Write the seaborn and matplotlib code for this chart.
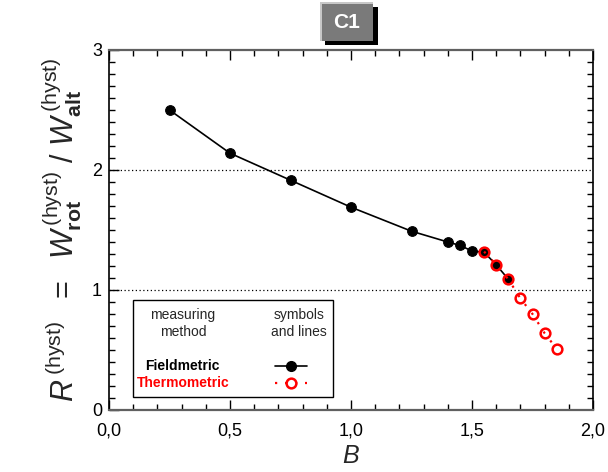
import numpy as np
import pandas as pd
import seaborn as sns
import matplotlib
matplotlib.use("Agg")
import matplotlib.pyplot as plt
from matplotlib.patches import Rectangle
from matplotlib.ticker import MultipleLocator, FixedLocator, FuncFormatter

# ---- data ----
field_B = [0.25, 0.50, 0.75, 1.00, 1.25, 1.40, 1.45, 1.50, 1.55, 1.60, 1.65]
field_R = [2.50, 2.14, 1.915, 1.69, 1.49, 1.40, 1.372, 1.325, 1.315, 1.21, 1.09]
thermo_B = [1.55, 1.60, 1.65, 1.70, 1.75, 1.80, 1.85]
thermo_R = [1.32, 1.21, 1.09, 0.93, 0.80, 0.64, 0.51]
x_ticks = [0.0, 0.5, 1.0, 1.5, 2.0]
y_ticks = [0, 1, 2, 3]
ref_lines = [1, 2]
panel_label = "C1"
legend_methods = ["Fieldmetric", "Thermometric"]

sns.set_theme(style="ticks")
plt.rcParams["font.family"] = ["Liberation Sans", "DejaVu Sans"]
plt.rcParams["mathtext.fontset"] = "custom"
plt.rcParams["mathtext.rm"] = "Liberation Sans"
plt.rcParams["mathtext.it"] = "Liberation Sans:italic"
plt.rcParams["mathtext.bf"] = "Liberation Sans:bold"

fig = plt.figure(figsize=(6.08, 4.72), dpi=100)
ax = fig.add_axes([109/608, 62/472, 484/608, 360/472])

df_f = pd.DataFrame({"B": field_B, "R": field_R})
df_t = pd.DataFrame({"B": thermo_B, "R": thermo_R})

for yv in ref_lines:
    ax.axhline(yv, color="black", lw=0.9, linestyle=(0, (1, 2)), zorder=1)

sns.lineplot(data=df_f, x="B", y="R", ax=ax, color="black", lw=1.2,
             marker="o", markersize=7, markeredgecolor="black",
             markerfacecolor="black", sort=False, zorder=3)
sns.lineplot(data=df_t, x="B", y="R", ax=ax, color="red", lw=1.6,
             linestyle=(0, (1, 4)), marker="o", markersize=7,
             markerfacecolor="none", markeredgecolor="red",
             markeredgewidth=1.8, sort=False, zorder=4)

ax.set_xlim(0, 2)
ax.set_ylim(0, 3)
ax.xaxis.set_major_locator(FixedLocator(x_ticks))
ax.xaxis.set_minor_locator(MultipleLocator(0.1))
ax.yaxis.set_major_locator(FixedLocator(y_ticks))
ax.yaxis.set_minor_locator(MultipleLocator(0.1))
ax.xaxis.set_major_formatter(FuncFormatter(lambda v, p: f"{v:.1f}".replace(".", ",")))
ax.yaxis.set_major_formatter(FuncFormatter(lambda v, p: f"{int(round(v))}"))
ax.tick_params(which="both", direction="in", top=True, right=True,
               labelsize=13, colors="black", width=1.0)
ax.tick_params(which="major", length=7)
ax.tick_params(axis="x", which="major", pad=9)
ax.tick_params(axis="y", which="major", pad=5)
ax.tick_params(which="minor", length=4)
ax.tick_params(axis="y", which="major", right=False)
for s in ["left", "right"]:
    ax.spines[s].set_color("black")
    ax.spines[s].set_linewidth(1.2)
for s in ["top", "bottom"]:
    ax.spines[s].set_color("#606060")
    ax.spines[s].set_linewidth(1.6)

ax.set_xlabel("$B$", fontsize=18, labelpad=3)
ax.set_ylabel(r"$R^{\,\mathrm{(hyst)}}\ \ =\ \ W^{\,\mathrm{(hyst)}}_{\mathbf{rot}}\ /\ W^{\,\mathrm{(hyst)}}_{\mathbf{alt}}$",
              fontsize=22, labelpad=6)

# ---- legend (manual box) ----
ax.add_patch(Rectangle((0.0496, 0.036), 0.4134, 0.270, transform=ax.transAxes,
                       fill=True, facecolor="white", edgecolor="black", lw=1.0, zorder=5))
ax.text(0.153, 0.240, "measuring\nmethod", transform=ax.transAxes, ha="center",
        va="center", fontsize=10, linespacing=1.25, zorder=6)
ax.text(0.393, 0.240, "symbols\nand lines", transform=ax.transAxes, ha="center",
        va="center", fontsize=10, linespacing=1.25, zorder=6)
ax.text(0.151, 0.122, legend_methods[0], transform=ax.transAxes, ha="center",
        va="center", fontsize=10, fontweight="bold", color="black", zorder=6)
ax.text(0.153, 0.075, legend_methods[1], transform=ax.transAxes, ha="center",
        va="center", fontsize=10, fontweight="bold", color="red", zorder=6)
ax.plot([0.344, 0.410], [0.122, 0.122], transform=ax.transAxes, color="black",
        lw=1.2, zorder=6)
ax.plot([0.377], [0.122], transform=ax.transAxes, marker="o", markersize=7,
        color="black", zorder=7)
ax.plot([0.342, 0.410], [0.075, 0.075], transform=ax.transAxes, color="red",
        lw=1.6, linestyle=(0, (1, 3.5)), zorder=6)
ax.plot([0.377], [0.075], transform=ax.transAxes, marker="o", markersize=7,
        markerfacecolor="white", markeredgecolor="red", markeredgewidth=1.8, zorder=7)

# ---- panel label box ----
W, H = 608, 472
def fr(x0, y0, x1, y1, **kw):
    fig.add_artist(Rectangle((x0/W, 1-y1/H), (x1-x0)/W, (y1-y0)/H,
                             transform=fig.transFigure, **kw))
fr(325, 7, 378, 45, facecolor="black", edgecolor="none")
fr(320, 2, 373, 41, facecolor="#c8c8c8", edgecolor="none")
fr(322, 4, 373, 41, facecolor="#7a7a7a", edgecolor="none")
fig.text(347/W, 1-22/H, panel_label, color="white", fontsize=15,
         fontweight="bold", ha="center", va="center")

fig.savefig("out.png", dpi=100)
